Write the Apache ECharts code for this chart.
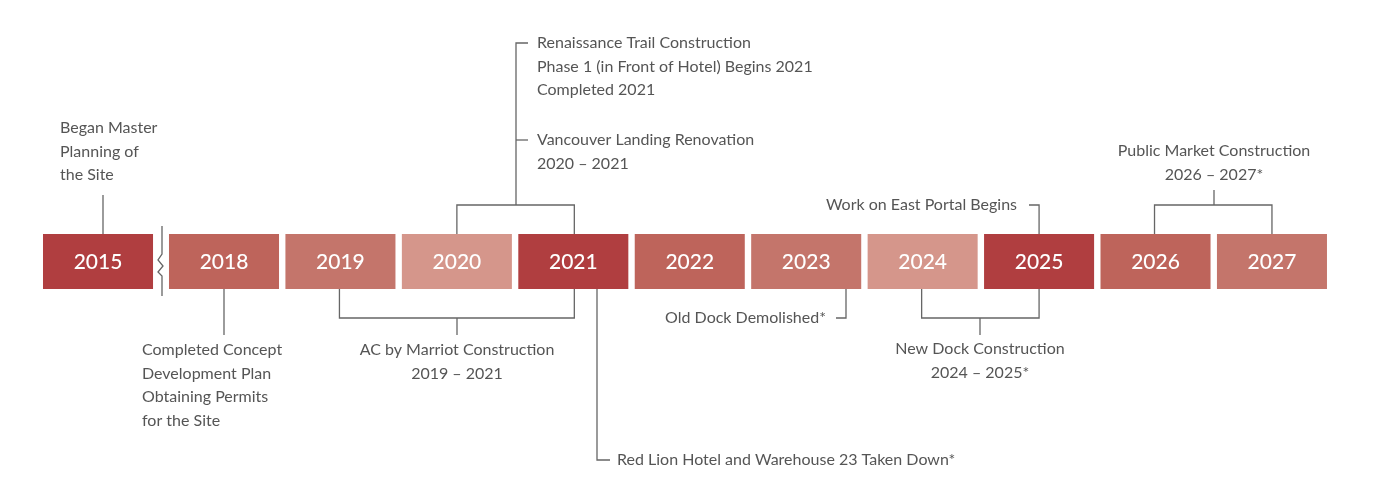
<!DOCTYPE html>
<html><head><meta charset="utf-8">
<script src="https://cdn.jsdelivr.net/npm/echarts@6/dist/echarts.min.js"></script>
<style>html,body{margin:0;background:#fff}#c{width:1380px;height:500px}</style>
</head><body><div id="c"></div>
<script>
const years = ['2015','2018','2019','2020','2021','2022','2023','2024','2025','2026','2027'];
const positions = [-1.082,0,1,2,3,4,5,6,7,8,9];
const colors = ['#B03E40','#BE645B','#C4756B','#D5968B','#B03E40','#BE645B','#C4756B','#D5968B','#B03E40','#BE645B','#C4756B'];
const UNIT = 116.44;
const chart = echarts.init(document.getElementById('c'));
const FONT = 'Lato';
const TXT = '#555';
const LN = '#666';
chart.setOption({
  animation:false,
  grid:{left:0,right:0,top:0,bottom:0},
  xAxis:{type:'value',min:-224/UNIT,max:-224/UNIT+1380/UNIT,show:false},
  yAxis:{type:'value',min:0,max:500,inverse:true,show:false},
  series:[{
    type:'custom',
    data:years.map((y,i)=>[positions[i],y,colors[i]]),
    renderItem:(p,api)=>{
      const c=api.coord([api.value(0),261.5]);
      const w=api.size([0.945,0])[0];
      const d=p.dataIndex;
      return {type:'group',children:[
        {type:'rect',shape:{x:c[0]-w/2,y:234,width:w,height:55},style:{fill:colors[d]}},
        {type:'text',style:{x:c[0],y:262,text:years[d],fill:'#fff',font:'500 21px Lato',align:'center',verticalAlign:'middle',letterSpacing:2}}
      ]};
    }
  }]
});
const X = i => chart.convertToPixel({xAxisIndex:0},positions[i]);
const g = [];
function line(pts){g.push({type:'polyline',shape:{points:pts},style:{stroke:LN,lineWidth:1.3,fill:null},silent:true});}
function text(x,y,lines,align){lines.forEach((t,k)=>g.push({type:'text',style:{x:x,y:y+k*23.5,text:t,fill:TXT,font:'16px '+FONT,align:align||'left',verticalAlign:'middle'}}));}
// 2015
line([[103,234],[103,195]]); text(60,128,['Began Master','Planning of','the Site']);
// break
line([[162,226],[162,254],[158,260],[163,266],[158,272],[162,276],[162,296]]);
// 2018
line([[X(1),289],[X(1),335]]); text(142,350,['Completed Concept','Development Plan','Obtaining Permits','for the Site']);
// 2019-2021
line([[X(2)-1,289],[X(2)-1,318],[X(4)+1,318],[X(4)+1,289]]); line([[457,318],[457,335]]);
text(457,350,['AC by Marriot Construction','2019 – 2021'],'center');
// 2021 red lion
line([[597,289],[597,460],[610,460]]); text(617,460,['Red Lion Hotel and Warehouse 23 Taken Down*']);
// 2020-2021 top
line([[X(3),234],[X(3),205],[X(4)+1,205],[X(4)+1,234]]); line([[516,205],[516,43],[528,43]]); line([[516,140],[528,140]]);
text(537,43,['Renaissance Trail Construction','Phase 1 (in Front of Hotel) Begins 2021','Completed 2021']);
text(537,140,['Vancouver Landing Renovation','2020 – 2021']);
// 2023
line([[846,289],[846,318],[836,318]]); text(826,318,['Old Dock Demolished*'],'right');
// 2024-2025
line([[X(7)-1,289],[X(7)-1,318],[X(8),318],[X(8),289]]); line([[980,318],[980,335]]);
text(980,349,['New Dock Construction','2024 – 2025*'],'center');
// 2025 top
line([[X(8),234],[X(8),205],[1029,205]]); text(1017,205,['Work on East Portal Begins'],'right');
// 2026-2027
line([[X(9)-1,234],[X(9)-1,205],[X(10),205],[X(10),234]]); line([[1214,205],[1214,190]]);
text(1214,151,['Public Market Construction','2026 – 2027*'],'center');
chart.setOption({graphic:g});
</script></body></html>
